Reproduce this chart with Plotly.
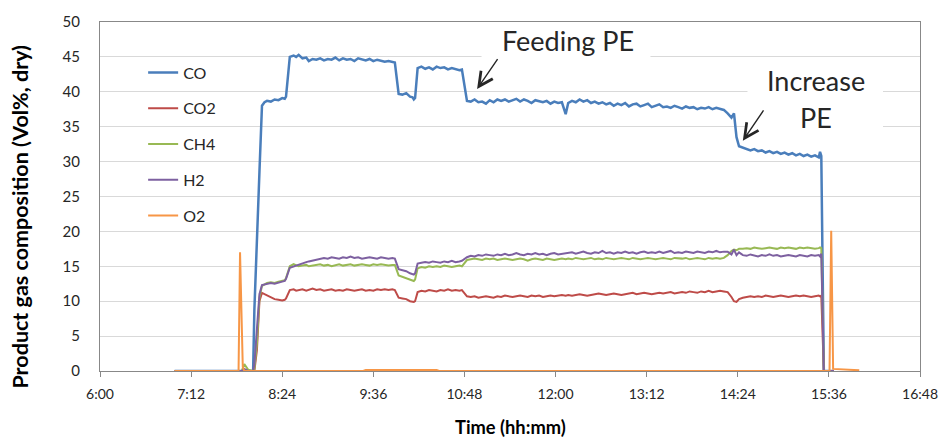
import pandas as pd
import plotly.graph_objects as go

# ---------------- data ----------------
TIMES = [
    "06:59", "07:30", "07:49", "07:52", "07:54", "07:57", "08:01",
    "08:02", "08:04", "08:06", "08:08", "08:10", "08:12", "08:15", "08:18", "08:21", "08:24", "08:26",
    "08:27", "08:30", "08:33", "08:35", "08:37", "08:40", "08:43", "08:45", "08:48", "08:51",
    "08:54", "08:57", "09:00", "09:03", "09:06", "09:09", "09:12", "09:15", "09:18", "09:21",
    "09:24", "09:27", "09:30", "09:33", "09:36", "09:39", "09:42", "09:45", "09:48", "09:51", "09:53",
    "09:56", "09:59", "10:02", "10:05", "10:07", "10:08", "10:09",
    "10:11", "10:14", "10:17", "10:20", "10:23", "10:26", "10:29", "10:32", "10:35", "10:38", "10:41", "10:44", "10:46",
    "10:50", "10:53", "10:56", "10:59", "11:02", "11:05", "11:08", "11:11", "11:14", "11:17", "11:20", "11:23", "11:26",
    "11:29", "11:32", "11:35", "11:38", "11:41", "11:44", "11:47", "11:50", "11:53", "11:56", "11:59", "12:02", "12:05",
    "12:08", "12:10", "12:13", "12:16", "12:19", "12:22", "12:25", "12:28", "12:31", "12:34", "12:37", "12:40", "12:43",
    "12:46", "12:49", "12:52", "12:55", "12:58", "13:01", "13:04", "13:07", "13:10", "13:13", "13:16", "13:19", "13:22",
    "13:25", "13:28", "13:31", "13:34", "13:37", "13:40", "13:43", "13:46", "13:49", "13:52", "13:55", "13:58", "14:01",
    "14:04", "14:07", "14:10", "14:13",
    "14:16", "14:19", "14:21", "14:23", "14:25",
    "14:28", "14:31", "14:34", "14:37", "14:40", "14:43", "14:46", "14:49", "14:52", "14:55", "14:58", "15:01",
    "15:04", "15:07", "15:10", "15:13", "15:16", "15:19", "15:22", "15:25", "15:28", "15:29", "15:30",
    "15:32", "15:35", "15:40",
]

CO = [
    0, 0, 0, 0, 0, 0, 0,
    8.8, 17.5, 28.5, 38.0, 38.5, 38.7, 38.6, 38.9, 38.8, 39.1, 39.0,
    39.3, 45.0, 45.2, 45.0, 45.3, 44.8, 44.9, 44.4, 44.7, 44.6,
    44.8, 44.5, 44.7, 44.6, 44.9, 44.5, 44.8, 44.6, 44.7, 44.4,
    44.8, 44.6, 44.5, 44.7, 44.4, 44.6, 44.5, 44.3, 44.4, 44.3, 44.2,
    39.7, 39.6, 39.8, 39.3, 39.2, 38.9, 39.1,
    43.4, 43.6, 43.3, 43.5, 43.2, 43.6, 43.4, 43.5, 43.2, 43.4, 43.3, 43.1, 43.2,
    38.7, 38.6, 38.9, 38.5, 38.6, 38.3, 38.8, 38.5, 38.9, 38.7, 38.9, 38.6, 38.8,
    39.0, 38.6, 38.9, 38.7, 38.4, 38.8, 38.6, 38.5, 38.7, 38.3, 38.6, 38.4, 38.5,
    36.8, 38.4, 38.7, 38.5, 38.9, 38.6, 38.8, 38.4, 38.6, 38.3, 38.5, 38.2, 38.4,
    38.0, 38.3, 38.1, 38.4, 37.9, 38.2, 38.3, 37.9, 38.1, 38.3, 37.8, 38.0, 38.2,
    37.8, 37.9, 37.7, 38.0, 37.8, 37.6, 37.9, 37.7, 37.8, 37.5, 37.7, 37.6, 37.8,
    37.5, 37.7, 37.6, 37.4,
    36.9, 36.3, 36.9, 33.5, 32.2,
    32.0, 31.9, 31.6, 31.8, 31.5, 31.6, 31.3, 31.5, 31.2, 31.4, 31.1, 31.3,
    31.0, 31.2, 30.9, 31.1, 30.8, 31.0, 30.7, 30.9, 30.6, 31.4, 30.8,
    0, 0, 0,
]

CO2 = [
    0, 0, 0, 0, 0, 0, 0,
    0, 3.0, 10.0, 11.2, 11.0, 10.8, 10.5, 10.3, 10.2, 10.1, 10.2,
    10.4, 11.6, 11.7, 11.5, 11.6, 11.7, 11.5, 11.6, 11.8, 11.6,
    11.7, 11.5, 11.6, 11.7, 11.5, 11.6, 11.5, 11.7, 11.6, 11.5,
    11.6, 11.7, 11.5, 11.6, 11.5, 11.7, 11.6, 11.7, 11.6, 11.7, 11.6,
    10.5, 10.4, 10.3, 10.0, 9.9, 9.9, 10.0,
    11.3, 11.5, 11.4, 11.6, 11.5, 11.4, 11.6, 11.5, 11.7, 11.5, 11.6, 11.5, 11.6,
    10.7, 10.6, 10.7, 10.5, 10.6, 10.7, 10.6, 10.5, 10.7, 10.6, 10.8, 10.7, 10.6,
    10.7, 10.8, 10.7, 10.6, 10.8, 10.7, 10.8, 10.6, 10.7, 10.8, 10.7, 10.8, 10.9,
    10.8, 10.9, 10.8, 10.9, 11.0, 10.9, 10.8, 10.9, 11.0, 11.1, 11.0, 10.9, 11.0,
    11.1, 11.0, 10.9, 11.0, 11.1, 11.2, 11.0, 11.1, 11.2, 11.1, 11.0, 11.1, 11.2,
    11.1, 11.2, 11.3, 11.1, 11.2, 11.3, 11.2, 11.4, 11.3, 11.2, 11.4, 11.3, 11.5,
    11.3, 11.4, 11.5, 11.4,
    11.3, 10.6, 10.0, 9.9, 10.3,
    10.5, 10.6, 10.7, 10.6, 10.7, 10.6, 10.8, 10.7, 10.6, 10.7, 10.8, 10.7,
    10.6, 10.7, 10.8, 10.7, 10.8, 10.7, 10.6, 10.7, 10.8, 10.7, 10.8,
    0, 0, 0,
]

CH4 = [
    0, 0, 0, 0, 1.0, 0.2, 0,
    0.3, 4.0, 10.5, 12.2, 12.4, 12.6, 12.7, 12.6, 12.8, 12.9, 13.0,
    13.3, 15.0, 15.3, 15.1, 15.0, 15.1, 15.2, 15.0, 15.1, 15.2,
    15.3, 15.1, 15.2, 15.0, 15.2, 15.3, 15.1, 15.2, 15.3, 15.1,
    15.2, 15.3, 15.2, 15.1, 15.3, 15.2, 15.3, 15.2, 15.1, 15.2, 15.2,
    13.7, 13.5, 13.3, 13.1, 13.0, 12.9, 13.1,
    14.7, 14.9, 14.8, 15.0, 14.9, 15.0, 14.9, 15.1, 15.0, 14.9, 15.0, 15.1, 15.0,
    15.9, 16.0, 16.1, 16.0, 15.9, 16.1, 16.0, 16.1, 15.9, 16.0, 16.1, 16.0, 15.9,
    16.0, 16.1, 16.0, 15.8, 16.0, 16.1, 16.0, 15.9, 16.1, 16.0, 15.9, 16.0, 16.1,
    16.0, 16.1, 16.0, 16.2, 16.1, 16.0, 16.1, 16.2, 16.0, 16.1, 16.0, 16.2, 16.1,
    16.0, 16.1, 16.2, 16.1, 16.0, 16.2, 16.1, 16.0, 16.1, 16.2, 16.1, 16.0, 16.1,
    16.2, 16.1, 16.0, 16.2, 16.1, 16.1, 16.2, 16.0, 16.1, 16.2, 16.1, 16.0, 16.2,
    16.1, 16.2, 16.1, 16.2,
    16.6, 17.2, 17.4, 17.3, 17.5,
    17.5, 17.6, 17.5, 17.7, 17.6, 17.5, 17.6, 17.7, 17.6, 17.5, 17.7, 17.6,
    17.7, 17.6, 17.5, 17.7, 17.6, 17.7, 17.6, 17.5, 17.6, 17.7, 17.6,
    0, 0, 0,
]

H2 = [
    0, 0, 0, 0, 0.3, 0, 0,
    1.0, 6.0, 11.0, 12.3, 12.4, 12.5, 12.6, 12.5, 12.7, 12.8, 12.9,
    13.2, 14.8, 15.0, 15.1, 15.3, 15.4, 15.6, 15.7, 15.8, 16.0,
    16.1, 16.2, 16.1, 16.3, 16.2, 16.1, 16.3, 16.2, 16.4, 16.2,
    16.3, 16.1, 16.2, 16.3, 16.2, 16.1, 16.3, 16.2, 16.1, 16.2, 16.1,
    14.6, 14.5, 14.3, 14.0, 13.9, 13.8, 14.0,
    15.4, 15.5, 15.6, 15.5, 15.7, 15.6, 15.5, 15.7, 15.6, 15.8, 15.6, 15.7, 15.8,
    16.3, 16.5, 16.4, 16.6, 16.5, 16.7, 16.6, 16.5, 16.7, 16.6, 16.8, 16.6, 16.7,
    16.9, 16.7, 16.6, 16.8, 16.7, 16.9, 16.7, 16.8, 16.6, 16.8, 16.9, 16.7, 16.8,
    16.8, 16.9, 17.0, 16.8, 16.9, 17.1, 16.9, 16.8, 17.0, 16.9, 17.2, 16.9, 17.0,
    16.8, 17.0, 16.9, 17.1, 16.9, 17.0, 16.8, 17.0, 17.1, 16.9, 17.0, 16.9, 17.1,
    16.9, 17.0, 17.2, 16.9, 17.0, 16.9, 17.1, 17.0, 16.9, 17.1, 17.0, 16.9, 17.1,
    17.0, 17.2, 17.0, 17.1,
    17.1, 16.7, 17.4, 16.6, 17.0,
    16.6, 16.5, 16.7, 16.5, 16.4, 16.6, 16.5, 16.7, 16.5, 16.6, 16.4, 16.5,
    16.6, 16.5, 16.4, 16.6, 16.5, 16.4, 16.6, 16.5, 16.6, 16.4, 16.8,
    0, 0, 0,
]

O2_TIMES = ["06:59:00", "07:49:30", "07:50:40", "07:52:50", "07:54:00", "09:28:00", "09:30:00",
            "10:26:00", "10:28:00", "15:36:30", "15:37:50", "15:39:20", "16:00:00"]
O2 = [0, 0, 17.0, 0.6, 0, 0, 0.15, 0.15, 0, 0, 20.1, 0.3, 0.1]

SERIES_NAMES = ["CO", "CO2", "CH4", "H2", "O2"]
X_TICK_START = "06:00"
X_TICK_END = "16:48"
Y_MAX = 50
Y_STEP = 5

# ---------------- styling ----------------
COLORS = {"CO": "#4A7EBB", "CO2": "#BE4B48", "CH4": "#98B954", "H2": "#7D60A0", "O2": "#F79646"}
WIDTHS = {"CO": 2.5, "CO2": 2.0, "CH4": 2.0, "H2": 2.0, "O2": 2.0}
FONT = "Lato, Carlito, Calibri, sans-serif"
DAY = "2000-01-01 "


def to_dt(ts):
    return pd.to_datetime([DAY + t for t in ts])


series_data = {
    "CO": (TIMES, CO),
    "CO2": (TIMES, CO2),
    "CH4": (TIMES, CH4),
    "H2": (TIMES, H2),
    "O2": (O2_TIMES, O2),
}

for name in ("CO", "CO2", "CH4", "H2"):
    assert len(series_data[name][1]) == len(TIMES), name

fig = go.Figure()
for name in SERIES_NAMES:
    t, v = series_data[name]
    fig.add_trace(go.Scatter(
        x=to_dt(t), y=v, name=name, mode="lines", legendgroup=name,
        line=dict(color=COLORS[name], width=WIDTHS[name]),
    ))

# white patches behind the annotation texts (hide gridlines, as in the reference)
fig.add_shape(type="rect", layer="between", xref="x", yref="y",
              x0=DAY + "11:01:30", x1=DAY + "13:15:00", y0=44.0, y1=47.8,
              fillcolor="white", line=dict(width=0))
fig.add_shape(type="rect", layer="between", xref="x", yref="y",
              x0=DAY + "14:31:40", x1=DAY + "16:18:45", y0=33.6, y1=41.6,
              fillcolor="white", line=dict(width=0))

ann_font = dict(family=FONT, size=27, color="#262626")
annotations = [
    dict(text="Feeding PE", x=DAY + "12:10:00", y=47.3, xref="x", yref="y",
         showarrow=False, font=ann_font, xanchor="center", yanchor="middle"),
    dict(text="Increase", x=DAY + "15:26:00", y=41.6, xref="x", yref="y",
         showarrow=False, font=ann_font, xanchor="center", yanchor="middle"),
    dict(text="PE", x=DAY + "15:26:00", y=36.3, xref="x", yref="y",
         showarrow=False, font=ann_font, xanchor="center", yanchor="middle"),
    dict(text="", x=DAY + "10:58:00", y=40.4, xref="x", yref="y",
         showarrow=True, ax=21.5, ay=-31.4, arrowhead=5, arrowsize=2.0,
         arrowwidth=1.4, arrowcolor="#262626"),
    dict(text="", x=DAY + "14:28:00", y=33.0, xref="x", yref="y",
         showarrow=True, ax=21.7, ay=-31.8, arrowhead=5, arrowsize=2.0,
         arrowwidth=1.4, arrowcolor="#262626"),
    dict(text="<b>Product gas composition (Vol%, dry)</b>", textangle=-90,
         x=-0.0972, y=0.4435, xref="paper", yref="paper", showarrow=False,
         xanchor="center", yanchor="middle",
         font=dict(family=FONT, size=21.5, color="#000000")),
    dict(text="<b>Time (hh:mm)</b>", x=0.5, y=-0.161, xref="paper", yref="paper",
         showarrow=False, xanchor="center", yanchor="middle",
         font=dict(family=FONT, size=18.3, color="#000000")),
]

fig.update_layout(
    width=950, height=444,
    margin=dict(l=100, r=27, t=17, b=73, pad=0),
    paper_bgcolor="white", plot_bgcolor="white",
    font=dict(family=FONT, size=14, color="#262626"),
    showlegend=True,
    legend=dict(x=0.0526, y=0.904, xanchor="left", yanchor="top",
                bgcolor="rgba(0,0,0,0)", borderwidth=0,
                font=dict(family=FONT, size=16, color="#262626"),
                tracegroupgap=12, traceorder="grouped"),
    annotations=annotations,
    xaxis=dict(
        type="date",
        range=[DAY + X_TICK_START, DAY + X_TICK_END],
        tick0=DAY + X_TICK_START, dtick=72 * 60 * 1000,
        tickformat="%-H:%M",
        showgrid=False, zeroline=False,
        showline=True, linecolor="#888888", linewidth=1.2, mirror=True,
        ticks="outside", ticklen=5, tickcolor="#888888", tickwidth=1.2,
        ticklabelstandoff=5,
        tickfont=dict(family=FONT, size=14, color="#262626"),
    ),
    yaxis=dict(
        range=[0, Y_MAX], dtick=Y_STEP, tick0=0,
        showgrid=True, gridcolor="#D9D9D9", gridwidth=1.2, zeroline=False,
        showline=True, linecolor="#888888", linewidth=1.2, mirror=True,
        ticks="", ticklabelstandoff=16,
        tickfont=dict(family=FONT, size=15, color="#262626"),
    ),
)

fig.write_html("out.html")
